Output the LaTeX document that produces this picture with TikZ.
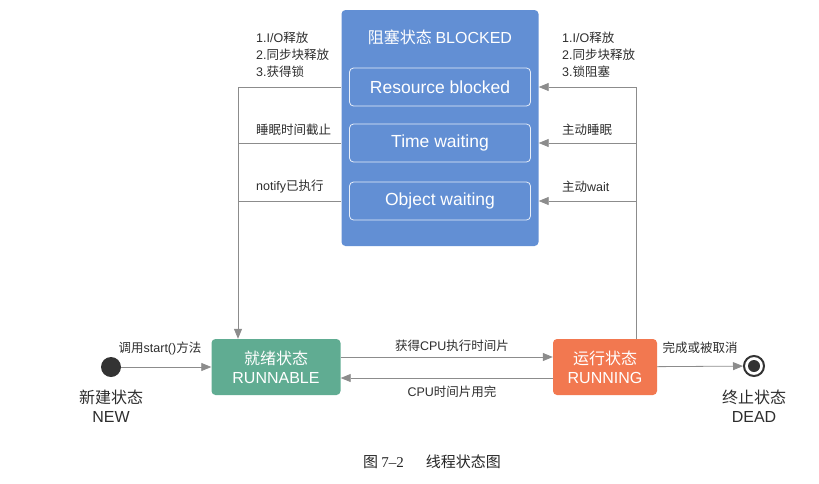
\documentclass[tikz,border=0pt]{standalone}
\usepackage{fontspec}
\setmainfont{Noto Sans CJK SC}
\newfontfamily\lat{Liberation Sans}
\newfontfamily\capfont{Liberation Serif}
\usetikzlibrary{arrows.meta}

\definecolor{blkblue}{RGB}{98,143,212}
\definecolor{rnbgreen}{RGB}{96,172,146}
\definecolor{rungorange}{RGB}{242,120,80}
\definecolor{linegray}{RGB}{140,140,140}
\definecolor{txtgray}{RGB}{45,45,45}

\tikzset{
  state/.style = {rounded corners = 4pt, text = white, align = center, inner sep = 0pt},
  substate/.style = {draw = white!85!blkblue, line width = 0.8pt, rounded corners = 4pt,
                     text = white, minimum width = 181pt, minimum height = 38pt, font = \lat\fontsize{17.5}{20}\selectfont},
  lbl/.style = {text = txtgray, font = \fontsize{12.5}{17}\selectfont, align = left, inner sep = 0pt},
  ln/.style = {draw = linegray, line width = 0.8pt},
  arr/.style = {ln, -{Triangle[length = 10pt, width = 8pt]}, color = linegray}
}

\begin{document}
\begin{tikzpicture}[x = 1pt, y = -1pt]
\useasboundingbox (0,0) rectangle (819,483);

% blocked state with its three sub states
\path
    (440,128) node[state, fill = blkblue, minimum width = 197pt, minimum height = 236pt](blk){}
    (440,37) node[text = white, font = \fontsize{16}{18}\selectfont](blkt){阻塞状态 {\lat BLOCKED}}
    (440,87) node[substate](res){Resource blocked}
    (440,143) node[substate](tw){Time waiting}
    (440,201) node[substate](ow){Object waiting};

% main states
\path
    (111,367) node[circle, fill = black!80, minimum size = 20pt, inner sep = 0pt](nw){}
    (276,367) node[state, fill = rnbgreen, minimum width = 129pt, minimum height = 56pt,
                   font = \fontsize{16}{19}\selectfont](rn){就绪状态\\{\lat RUNNABLE}}
    (605,367) node[state, fill = rungorange, minimum width = 104pt, minimum height = 56pt,
                   font = \fontsize{16}{19}\selectfont](rg){运行状态\\{\lat RUNNING}}
    (754,366) node[circle, draw = black!80, line width = 2pt, minimum size = 20pt, inner sep = 0pt](dd){}
    (754,366) node[circle, fill = black!80, minimum size = 12pt, inner sep = 0pt](ddin){};

\path
    (111,406) node[text = txtgray, align = center, font = \fontsize{16}{19}\selectfont](nwt){新建状态\\{\lat NEW}}
    (754,406) node[text = txtgray, align = center, font = \fontsize{16}{19}\selectfont](ddt){终止状态\\{\lat DEAD}};

% labels
\path
    (256,55) node[lbl, anchor = west](l1){{\lat 1.I/O}释放\\{\lat 2.}同步块释放\\{\lat 3.}获得锁}
    (256,130) node[lbl, anchor = west](l2){睡眠时间截止}
    (256,187) node[lbl, anchor = west](l3){{\lat notify}已执行}
    (562,55) node[lbl, anchor = west](r1){{\lat 1.I/O}释放\\{\lat 2.}同步块释放\\{\lat 3.}锁阻塞}
    (562,130) node[lbl, anchor = west](r2){主动睡眠}
    (562,187) node[lbl, anchor = west](r3){主动{\lat wait}}
    (160,348) node[lbl](l4){调用{\lat start()}方法}
    (452,346) node[lbl](l5){获得{\lat CPU}执行时间片}
    (452,392) node[lbl](l6){{\lat CPU}时间片用完}
    (700,348) node[lbl](l7){完成或被取消};

% back to runnable
\coordinate (L) at (238,87);
\draw[arr] (blk.west |- res) -- (L) -- (L |- rn.north);
\draw[ln] (blk.west |- tw) -- (L |- tw);
\draw[ln] (blk.west |- ow) -- (L |- ow);

% from running into blocked
\coordinate (R) at (636,87);
\draw[ln] (R |- rg.north) -- (R);
\draw[arr] (R) -- (blk.east |- res);
\draw[arr] (R |- tw) -- (blk.east |- tw);
\draw[arr] (R |- ow) -- (blk.east |- ow);

% main flow
\draw[arr] (nw) -- (rn);
\draw[arr] ([yshift = 10pt]rn.east) -- ([yshift = 10pt]rg.west);
\draw[arr] ([yshift = -11pt]rg.west) -- ([yshift = -11pt]rn.east);
\draw[arr] (rg) -- (dd);

% caption
\node[text = black!85, font = \fontsize{15}{17}\selectfont] (cap) at (432,462) {图 {\capfont 7–2}\hspace{22pt}线程状态图};

\end{tikzpicture}
\end{document}
